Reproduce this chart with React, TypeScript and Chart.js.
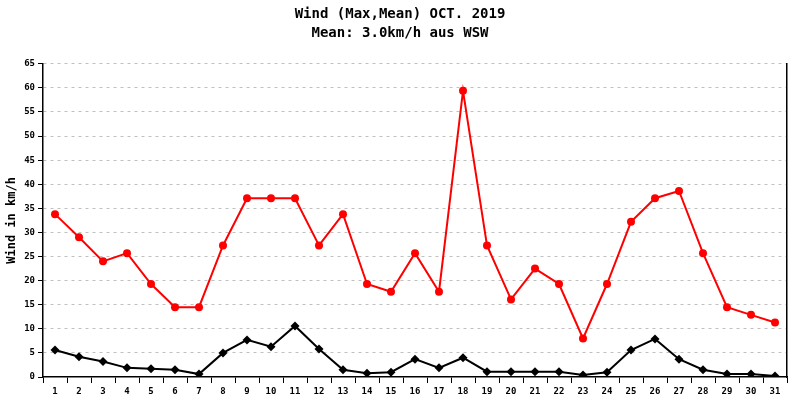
import React, { useEffect, useRef } from 'react';
import { Chart, registerables } from 'chart.js';

Chart.register(...registerables);

const days = Array.from({ length: 31 }, (_, i) => String(i + 1));

// max wind per day (km/h)
const windMax = [
    33.8, 29.0, 24.0, 25.7, 19.3, 14.5, 14.5, 27.3, 37.1, 37.1,
    37.1, 27.3, 33.8, 19.3, 17.7, 25.7, 17.7, 59.4, 27.3, 16.1,
    22.5, 19.3, 8.0, 19.3, 32.2, 37.1, 38.6, 25.7, 14.5, 12.9,
    11.3,
];

// mean wind per day (km/h)
const windMean = [
    5.6, 4.2, 3.2, 1.9, 1.7, 1.5, 0.6, 5.0, 7.7, 6.3,
    10.6, 5.8, 1.5, 0.8, 1.0, 3.7, 1.9, 4.0, 1.1, 1.1,
    1.1, 1.1, 0.4, 1.0, 5.6, 7.9, 3.7, 1.5, 0.6, 0.6,
    0.2,
];

const titleLines = ['Wind (Max,Mean) OCT. 2019', 'Mean: 3.0km/h aus WSW'];
const yTitle = 'Wind in km/h';

const MONO = '"DejaVu Sans Mono", "Liberation Mono", monospace';

const App: React.FC = () => {
    const canvasRef = useRef<HTMLCanvasElement>(null);
    const chartRef = useRef<Chart | null>(null);

    useEffect(() => {
        document.body.style.margin = '0';
        if (!canvasRef.current) return;
        const ctx = canvasRef.current.getContext('2d');
        if (!ctx) return;

        chartRef.current = new Chart(ctx, {
            type: 'line',
            data: {
                labels: days,
                datasets: [
                    {
                        label: 'Max',
                        data: windMax,
                        borderColor: '#ff0000',
                        backgroundColor: '#ff0000',
                        borderWidth: 2,
                        pointStyle: 'circle',
                        pointRadius: 4,
                        pointBorderWidth: 0,
                        tension: 0,
                    },
                    {
                        label: 'Mean',
                        data: windMean,
                        borderColor: '#000000',
                        backgroundColor: '#000000',
                        borderWidth: 2,
                        pointStyle: 'rectRot',
                        pointRadius: 4.5,
                        pointBorderWidth: 0,
                        tension: 0,
                    },
                ],
            },
            options: {
                animation: false,
                responsive: false,
                maintainAspectRatio: false,
                layout: { padding: 0 },
                plugins: {
                    legend: { display: false },
                    tooltip: { enabled: false },
                    title: {
                        display: true,
                        text: titleLines,
                        color: '#000',
                        font: { family: MONO, size: 14, weight: 'bold', lineHeight: 1.35 },
                        padding: { top: 5, bottom: 21 },
                    },
                },
                scales: {
                    x: {
                        type: 'category',
                        offset: true,
                        grid: {
                            offset: true,
                            drawOnChartArea: false,
                            drawTicks: true,
                            tickLength: 6,
                            tickColor: '#000',
                            tickWidth: 1,
                        },
                        border: { display: true, color: '#000', width: 1.5 },
                        ticks: {
                            color: '#000',
                            font: { family: MONO, size: 9, weight: 'bold' },
                            padding: 3,
                            maxRotation: 0,
                            autoSkip: false,
                        },
                        afterFit: (scale: any) => {
                            scale.height = 23;
                        },
                    },
                    y: {
                        position: 'left',
                        min: 0,
                        max: 65,
                        ticks: {
                            stepSize: 5,
                            color: '#000',
                            font: { family: MONO, size: 9, weight: 'bold' },
                            padding: 3,
                        },
                        grid: {
                            color: (c: any) => (c.tick && c.tick.value === 0 ? 'rgba(0,0,0,0)' : '#c0c0c0'),
                            lineWidth: 1,
                            drawTicks: true,
                            tickLength: 5,
                            tickColor: '#000',
                            tickWidth: 1,
                        },
                        border: { display: true, color: '#000', width: 1.5, dash: [3, 4] },
                        title: {
                            display: true,
                            text: yTitle,
                            color: '#000',
                            font: { family: MONO, size: 12, weight: 'bold' },
                            padding: { top: 5, bottom: 0 },
                        },
                        afterFit: (scale: any) => {
                            scale.width = 43;
                        },
                    },
                    y2: {
                        position: 'right',
                        min: 0,
                        max: 65,
                        ticks: { display: false },
                        grid: { drawOnChartArea: false, drawTicks: false },
                        border: { display: true, color: '#000', width: 1.5 },
                        afterFit: (scale: any) => {
                            scale.width = 13;
                        },
                    },
                },
            },
        });

        return () => {
            if (chartRef.current) {
                chartRef.current.destroy();
                chartRef.current = null;
            }
        };
    }, []);

    return (
        <div style={{ width: 800, height: 400, background: '#fff' }}>
            <canvas ref={canvasRef} width={800} height={400} style={{ width: 800, height: 400 }} />
        </div>
    );
};

export default App;
